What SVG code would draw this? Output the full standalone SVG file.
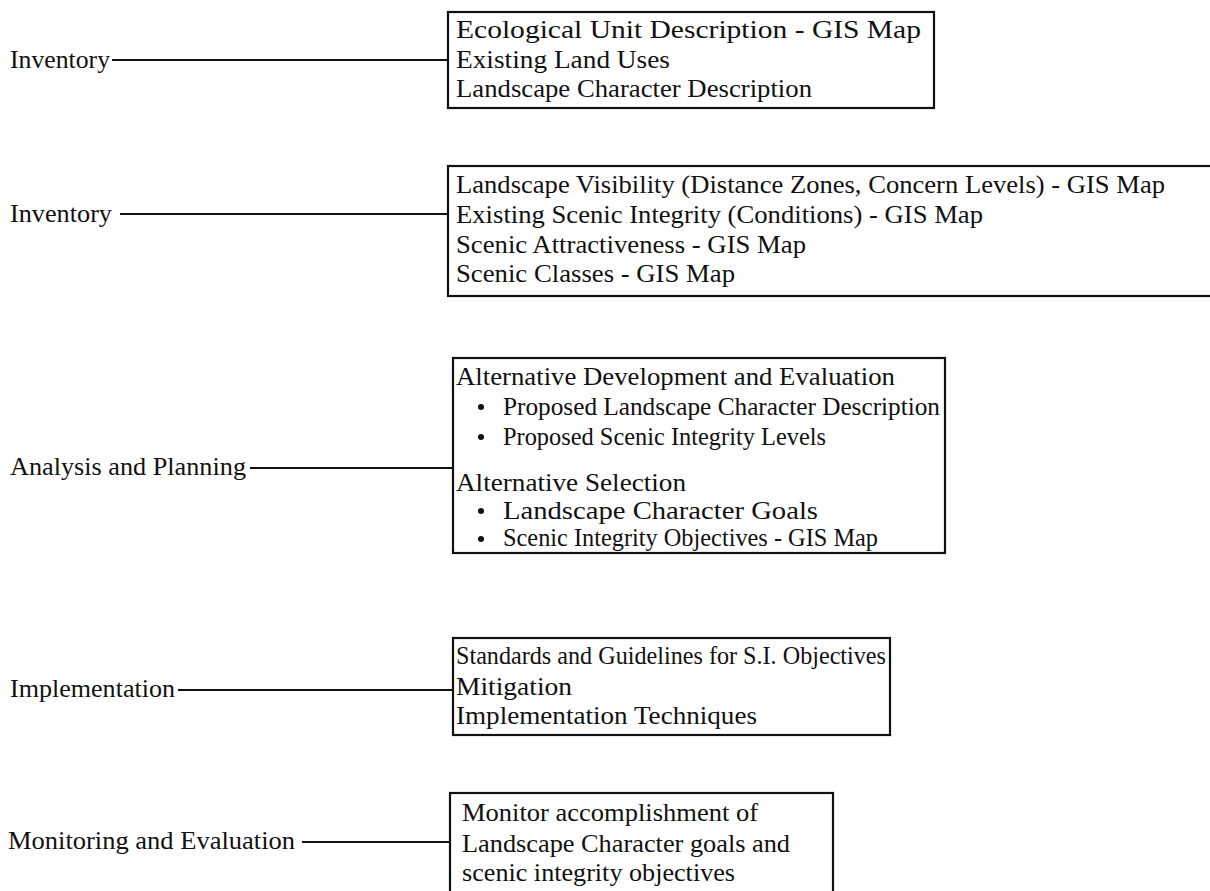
<svg xmlns="http://www.w3.org/2000/svg" width="1210" height="891" viewBox="0 0 1210 891">
<style>
text{font-family:"Liberation Serif","Times New Roman",serif;font-size:26px;fill:#111;}
.box{fill:none;stroke:#111;stroke-width:2.2;}
.con{stroke:#111;stroke-width:2;fill:none;}
.dot{fill:#111;}
</style>
<rect width="1210" height="891" fill="#fff"/>
<g id="connectors">
<line class="con" x1="112" y1="60" x2="448" y2="60"/>
<line class="con" x1="120" y1="214" x2="448" y2="214"/>
<line class="con" x1="250" y1="468" x2="453" y2="468"/>
<line class="con" x1="178" y1="690" x2="453" y2="690"/>
<line class="con" x1="302" y1="842" x2="450" y2="842"/>
</g>
<g id="label-inventory-1"><text x="10" y="68" textLength="100" lengthAdjust="spacingAndGlyphs">Inventory</text></g>
<g id="label-inventory-2"><text x="10" y="222" textLength="102" lengthAdjust="spacingAndGlyphs">Inventory</text></g>
<g id="label-analysis"><text x="10" y="475" textLength="236" lengthAdjust="spacingAndGlyphs">Analysis and Planning</text></g>
<g id="label-implementation"><text x="10" y="697" textLength="165" lengthAdjust="spacingAndGlyphs">Implementation</text></g>
<g id="label-monitoring"><text x="8" y="849" textLength="287" lengthAdjust="spacingAndGlyphs">Monitoring and Evaluation</text></g>
<g id="box-inventory-1">
<rect class="box" x="448" y="12" width="486" height="96"/>
<text x="456" y="38" textLength="465" lengthAdjust="spacingAndGlyphs">Ecological Unit Description - GIS Map</text>
<text x="456" y="68" textLength="214" lengthAdjust="spacingAndGlyphs">Existing Land Uses</text>
<text x="456" y="97" textLength="356" lengthAdjust="spacingAndGlyphs">Landscape Character Description</text>
</g>
<g id="box-inventory-2">
<rect class="box" x="448" y="166" width="766" height="130"/>
<text x="456" y="193" textLength="709" lengthAdjust="spacingAndGlyphs">Landscape Visibility (Distance Zones, Concern Levels) - GIS Map</text>
<text x="456" y="223" textLength="527" lengthAdjust="spacingAndGlyphs">Existing Scenic Integrity (Conditions) - GIS Map</text>
<text x="456" y="253" textLength="350" lengthAdjust="spacingAndGlyphs">Scenic Attractiveness - GIS Map</text>
<text x="456" y="282" textLength="279" lengthAdjust="spacingAndGlyphs">Scenic Classes - GIS Map</text>
</g>
<g id="box-analysis">
<rect class="box" x="453" y="358" width="492" height="195"/>
<text x="456" y="385" textLength="439" lengthAdjust="spacingAndGlyphs">Alternative Development and Evaluation</text>
<circle class="dot" cx="481" cy="407" r="3"/>
<text x="503" y="415" textLength="437" lengthAdjust="spacingAndGlyphs">Proposed Landscape Character Description</text>
<circle class="dot" cx="481" cy="437" r="3"/>
<text x="503" y="445" textLength="323" lengthAdjust="spacingAndGlyphs">Proposed Scenic Integrity Levels</text>
<text x="456" y="491" textLength="230" lengthAdjust="spacingAndGlyphs">Alternative Selection</text>
<circle class="dot" cx="481" cy="511" r="3"/>
<text x="503" y="519" textLength="315" lengthAdjust="spacingAndGlyphs">Landscape Character Goals</text>
<circle class="dot" cx="481" cy="539" r="3"/>
<text x="503" y="546" textLength="375" lengthAdjust="spacingAndGlyphs">Scenic Integrity Objectives - GIS Map</text>
</g>
<g id="box-implementation">
<rect class="box" x="453" y="638" width="437" height="97"/>
<text x="456" y="664" textLength="430" lengthAdjust="spacingAndGlyphs">Standards and Guidelines for S.I. Objectives</text>
<text x="456" y="695" textLength="116" lengthAdjust="spacingAndGlyphs">Mitigation</text>
<text x="456" y="724" textLength="301" lengthAdjust="spacingAndGlyphs">Implementation Techniques</text>
</g>
<g id="box-monitoring">
<rect class="box" x="450" y="793" width="383" height="102"/>
<text x="462" y="821" textLength="296" lengthAdjust="spacingAndGlyphs">Monitor accomplishment of</text>
<text x="462" y="852" textLength="328" lengthAdjust="spacingAndGlyphs">Landscape Character goals and</text>
<text x="462" y="881" textLength="273" lengthAdjust="spacingAndGlyphs">scenic integrity objectives</text>
</g>
</svg>
